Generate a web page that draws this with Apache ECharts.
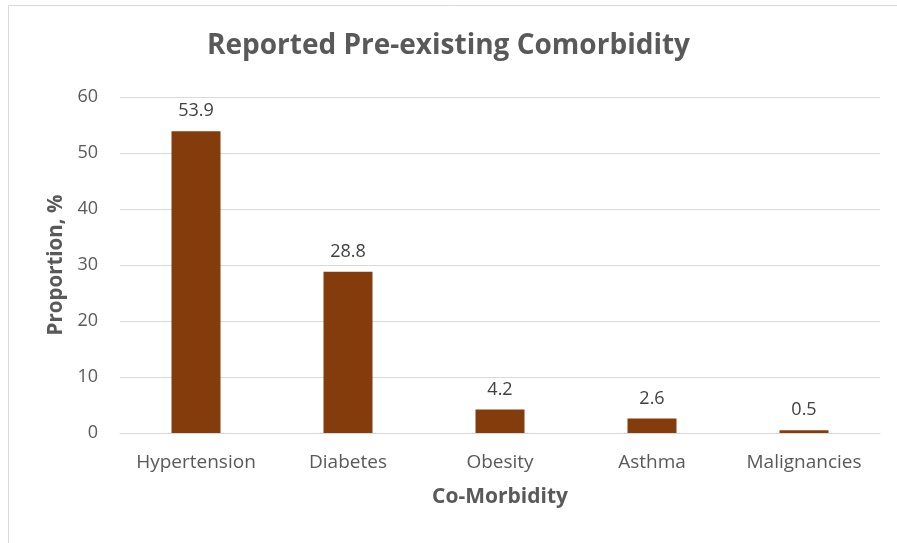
<!DOCTYPE html>
<html>
<head>
<meta charset="utf-8">
<script src="https://cdn.jsdelivr.net/npm/echarts@6/dist/echarts.min.js"></script>
<style>html,body{margin:0;padding:0;background:#fff;}#c{width:897px;height:543px;}</style>
</head>
<body>
<div id="c"></div>
<script>
const categories = ['Hypertension', 'Diabetes', 'Obesity', 'Asthma', 'Malignancies'];
const proportions = [53.9, 28.8, 4.2, 2.6, 0.5];
const titleText = 'Reported Pre-existing Comorbidity';
const xName = 'Co-Morbidity';
const yName = 'Proportion, %';

const chart = echarts.init(document.getElementById('c'));
const font = '"Open Sans", sans-serif';
chart.setOption({
  animation: false,
  backgroundColor: '#fff',
  textStyle: { fontFamily: font },
  graphic: [{
    type: 'rect', left: 6, top: 3, silent: true,
    shape: { width: 1000, height: 700 },
    style: { fill: 'none', stroke: '#d9d9d9', lineWidth: 1 }
  }],
  title: {
    text: titleText, left: 'center', top: 27,
    textStyle: { fontFamily: font, fontSize: 28, fontWeight: 'bold', color: '#595959' }
  },
  grid: { left: 120, right: 17, top: 97, bottom: 110 },
  xAxis: {
    type: 'category', data: categories,
    name: xName, nameLocation: 'middle', nameGap: 54,
    nameTextStyle: { fontFamily: font, fontSize: 21, fontWeight: 'bold', color: '#595959' },
    axisLine: { lineStyle: { color: '#d9d9d9', width: 1 } },
    axisTick: { show: false },
    axisLabel: { fontSize: 19, color: '#595959', margin: 20, interval: 0 }
  },
  yAxis: {
    type: 'value', min: 0, max: 60, interval: 10,
    name: yName, nameLocation: 'middle', nameGap: 48, nameRotate: 90,
    nameTextStyle: { fontFamily: font, fontSize: 20.5, fontWeight: 'bold', color: '#595959' },
    axisLine: { show: false }, axisTick: { show: false },
    axisLabel: { fontSize: 18, color: '#595959', margin: 22 },
    splitLine: { lineStyle: { color: '#d9d9d9', width: 1 } }
  },
  series: [{
    type: 'bar', data: proportions, barWidth: 49,
    itemStyle: { color: '#843C0C' },
    label: { show: true, position: 'top', distance: 11, fontSize: 18, color: '#404040', fontFamily: font }
  }]
});
</script>
</body>
</html>
